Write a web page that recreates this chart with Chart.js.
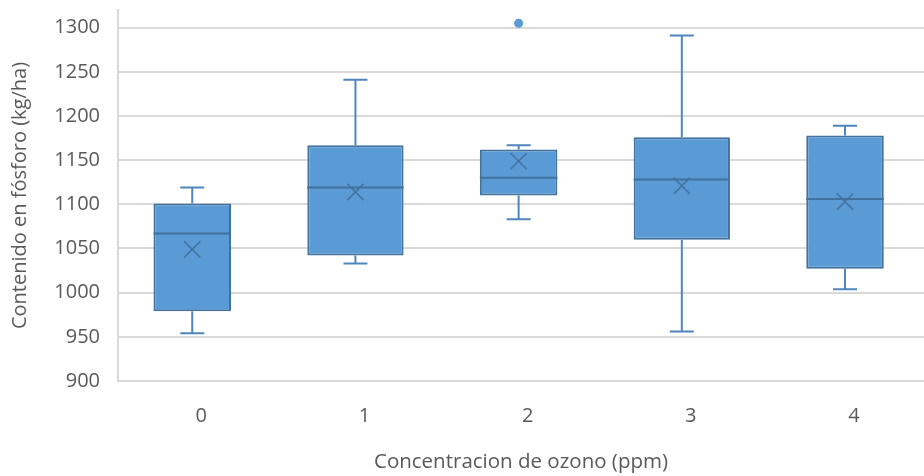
<!DOCTYPE html>
<html>
<head>
<meta charset="utf-8">
<script src="https://cdn.jsdelivr.net/npm/chart.js@4"></script>
<style>
html,body{margin:0;padding:0;background:#fff;overflow:hidden;}
#wrap{width:924px;height:476px;position:relative;}
</style>
</head>
<body>
<div id="wrap"><canvas id="c" width="924" height="476"></canvas></div>
<script>
// ---- data ----
const categories = ['0', '1', '2', '3', '4'];
const whiskerLow  = [954, 1033, 1083, 956, 1004];
const q1Values    = [979, 1042, 1110, 1060, 1027];
const medianVals  = [1067, 1119, 1130, 1128, 1106];
const q3Values    = [1101, 1167, 1162, 1176, 1178];
const whiskerHigh = [1119, 1241, 1167, 1291, 1189];
const meanValues  = [1049, 1114, 1149, 1121, 1103];
const outlierCats = [2];
const outlierVals = [1305];
const yTicks      = [900, 950, 1000, 1050, 1100, 1150, 1200, 1250, 1300];

const FILL = '#5B9BD5';
const DARK = '#41719C';
const WHISK = '#4F86BE';
const TEXT = '#595959';
const GRID = '#D9D9D9';
const FONT = "'Open Sans', sans-serif";

const narrowIdx = [0, 2, 4];
const wideIdx = [1, 3];
const boxData = idx => idx.map(i => ({x: i, y: [q1Values[i], q3Values[i]]}));

const boxPlugin = {
  id: 'boxExtras',
  afterDatasetsDraw(chart) {
    const {ctx, scales: {x, y}} = chart;
    ctx.save();
    categories.forEach((c, i) => {
      const cx = x.getPixelForValue(i);
      const capHalf = 12;
      ctx.strokeStyle = WHISK;
      ctx.lineWidth = 2;
      ctx.beginPath();
      ctx.moveTo(cx, y.getPixelForValue(q3Values[i]));
      ctx.lineTo(cx, y.getPixelForValue(whiskerHigh[i]));
      ctx.moveTo(cx - capHalf, y.getPixelForValue(whiskerHigh[i]));
      ctx.lineTo(cx + capHalf, y.getPixelForValue(whiskerHigh[i]));
      ctx.moveTo(cx, y.getPixelForValue(q1Values[i]));
      ctx.lineTo(cx, y.getPixelForValue(whiskerLow[i]));
      ctx.moveTo(cx - capHalf, y.getPixelForValue(whiskerLow[i]));
      ctx.lineTo(cx + capHalf, y.getPixelForValue(whiskerLow[i]));
      ctx.stroke();
      const isNarrow = narrowIdx.includes(i);
      const meta = chart.getDatasetMeta(isNarrow ? 2 : 3);
      const bar = meta.data[(isNarrow ? narrowIdx : wideIdx).indexOf(i)];
      const half = bar.width / 2;
      ctx.strokeStyle = DARK;
      ctx.lineWidth = 2;
      ctx.beginPath();
      const my = y.getPixelForValue(medianVals[i]);
      ctx.moveTo(cx - half, my);
      ctx.lineTo(cx + half, my);
      ctx.stroke();
    });
    ctx.restore();
  }
};

new Chart(document.getElementById('c'), {
  type: 'bar',
  data: {
    datasets: [
      {
        type: 'scatter',
        label: 'Media',
        data: meanValues.map((v, i) => ({x: i, y: v})),
        pointStyle: 'crossRot',
        pointRadius: 11.5,
        borderColor: DARK,
        borderWidth: 1.5,
        order: 0
      },
      {
        type: 'scatter',
        label: 'Atípicos',
        data: outlierCats.map((c, k) => ({x: c, y: outlierVals[k]})),
        pointStyle: 'circle',
        pointRadius: 4.5,
        backgroundColor: FILL,
        borderColor: FILL,
        borderWidth: 0,
        order: 0
      },
      {
        label: 'Caja',
        data: boxData(narrowIdx),
        backgroundColor: FILL,
        borderColor: DARK,
        borderWidth: 2,
        borderSkipped: false,
        grouped: false,
        categoryPercentage: 1,
        barPercentage: 0.475,
        order: 2
      },
      {
        label: 'Caja ancha',
        data: boxData(wideIdx),
        backgroundColor: FILL,
        borderColor: DARK,
        borderWidth: 2,
        borderSkipped: false,
        grouped: false,
        categoryPercentage: 1,
        barPercentage: 0.59,
        order: 2
      }
    ]
  },
  options: {
    responsive: false,
    animation: false,
    layout: {autoPadding: false, padding: {left: 0, right: 0, top: 10, bottom: 0}},
    plugins: {legend: {display: false}, tooltip: {enabled: false}},
    scales: {
      x: {
        type: 'linear',
        offset: false,
        min: -0.455,
        max: 4.484,
        grid: {display: false, drawTicks: false},
        border: {display: false},
        afterFit(s) { s.height = 95; s.paddingLeft = 0; s.paddingRight = 0; },
        afterBuildTicks(s) { s.ticks = categories.map((c, i) => ({value: i})); },
        ticks: {
          includeBounds: false,
          padding: 23,
          labelOffset: 9,
          maxRotation: 0,
          autoSkip: false,
          color: TEXT,
          font: {family: FONT, size: 20},
          callback: v => categories[v]
        },
        title: {
          display: true,
          text: 'Concentracion de ozono (ppm)',
          color: TEXT,
          font: {family: FONT, size: 20.5},
          padding: {top: 0, bottom: 2}
        }
      },
      y: {
        min: 900,
        max: 1320,
        afterFit(s) { s.width = 118; s.paddingTop = 0; s.paddingBottom = 0; },
        afterBuildTicks(s) { s.ticks = yTicks.map(v => ({value: v})); },
        grid: {color: GRID, lineWidth: 2, drawTicks: false},
        border: {display: true, color: GRID, width: 2},
        ticks: {
          includeBounds: false,
          padding: 18,
          color: TEXT,
          font: {family: FONT, size: 20},
          callback: v => String(v)
        },
        title: {
          display: true,
          text: 'Contenido en fósforo (kg/ha)',
          color: TEXT,
          font: {family: FONT, size: 20},
          padding: {top: 8, bottom: 0}
        }
      }
    }
  },
  plugins: [boxPlugin]
});
</script>
</body>
</html>
